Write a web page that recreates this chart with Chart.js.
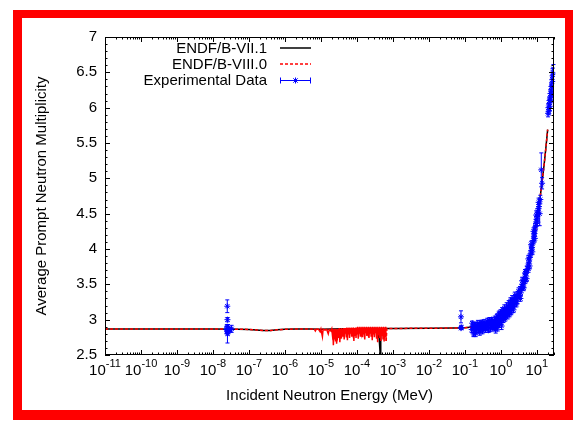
<!DOCTYPE html>
<html>
<head>
<meta charset="utf-8">
<title>Average Prompt Neutron Multiplicity</title>
<script src="https://cdn.jsdelivr.net/npm/chart.js@4.4.0/dist/chart.umd.min.js"></script>
<style>
  html, body { margin: 0; padding: 0; background: #ffffff; }
  #wrap { position: relative; width: 577px; height: 423px; }
</style>
</head>
<body>
<div id="wrap"><canvas id="nuChart" width="577" height="423"></canvas></div>
<script>
// ---- Data ----

// Smooth thermal / epithermal part shared by both evaluations (MeV, nu)
const thermalEnergy = [1e-11, 1e-9, 1e-8, 5e-8, 1e-7, 1.6e-7, 2.5e-7, 4e-7, 6e-7, 1e-6, 2e-6, 5e-6];
const thermalNu = [2.868, 2.868, 2.867, 2.866, 2.862, 2.855, 2.848, 2.848, 2.856, 2.864, 2.868, 2.868];

// Fast part shared by both evaluations
const fastEnergy = [6.8e-4, 1e-3, 1e-2, 0.05, 0.1, 0.3, 0.5, 1, 2, 3, 4, 5, 6, 7, 8, 9, 10, 12, 14, 16, 18, 20];
const fastNu = [2.875, 2.876, 2.878, 2.882, 2.885, 2.91, 2.94, 3.01, 3.15, 3.30, 3.45, 3.62, 3.79, 3.95, 4.10, 4.25, 4.40, 4.68, 4.95, 5.20, 5.45, 5.69];

// Resolved resonance region, ENDF/B-VII.1 (mostly hidden under VIII.0)
const res71Energy = [1e-5, 2e-5, 5e-5, 1e-4, 2e-4, 3.6e-4, 3.8e-4, 4.0e-4, 4.45e-4, 4.6e-4, 6e-4];
const res71Nu = [2.866, 2.868, 2.87, 2.872, 2.874, 2.875, 2.74, 2.875, 2.50, 2.875, 2.876];

// Resolved resonance region, ENDF/B-VIII.0
const res80Energy = [6.5e-6, 7e-6, 7.5e-6, 8.5e-6, 9.5e-6, 1.0e-5, 1.1e-5, 1.15e-5, 1.3e-5, 1.45e-5, 1.6e-5, 1.7e-5, 1.9e-5,
  2.00e-5, 2.07e-5, 2.14e-5, 2.22e-5, 2.30e-5, 2.38e-5, 2.46e-5, 2.55e-5, 2.64e-5, 2.73e-5,
  2.83e-5, 2.93e-5, 3.03e-5, 3.14e-5, 3.25e-5, 3.36e-5, 3.48e-5, 3.60e-5, 3.73e-5, 3.86e-5,
  4.00e-5, 4.14e-5, 4.28e-5, 4.43e-5, 4.59e-5, 4.75e-5, 4.92e-5, 5.09e-5, 5.27e-5, 5.45e-5,
  5.64e-5, 5.84e-5, 6.05e-5, 6.26e-5, 6.48e-5, 6.70e-5, 6.94e-5, 7.18e-5, 7.43e-5, 7.69e-5,
  7.96e-5, 8.24e-5, 8.53e-5, 8.83e-5, 9.14e-5, 9.46e-5, 9.79e-5,
  1.013e-4, 1.05e-4, 1.09e-4, 1.13e-4, 1.17e-4, 1.21e-4, 1.25e-4, 1.29e-4, 1.34e-4, 1.39e-4,
  1.44e-4, 1.49e-4, 1.54e-4, 1.59e-4, 1.65e-4, 1.71e-4, 1.77e-4, 1.83e-4, 1.89e-4, 1.96e-4,
  2.03e-4, 2.10e-4, 2.17e-4, 2.25e-4, 2.33e-4, 2.41e-4, 2.49e-4, 2.58e-4, 2.67e-4, 2.76e-4,
  2.86e-4, 2.96e-4, 3.06e-4, 3.17e-4, 3.28e-4, 3.40e-4, 3.52e-4, 3.64e-4, 3.77e-4, 3.90e-4,
  4.04e-4, 4.18e-4, 4.33e-4, 4.48e-4, 4.64e-4, 4.80e-4, 4.97e-4, 5.14e-4, 5.32e-4, 5.51e-4,
  5.70e-4, 5.90e-4, 6.11e-4, 6.32e-4, 6.50e-4];
const res80Nu = [2.868, 2.84, 2.868, 2.866, 2.83, 2.866, 2.76, 2.865, 2.85, 2.862, 2.80, 2.86, 2.84,
  2.87, 2.80, 2.87, 2.64, 2.86, 2.72, 2.87, 2.69, 2.87, 2.66,
  2.86, 2.79, 2.87, 2.74, 2.88, 2.68, 2.87, 2.73, 2.88, 2.81,
  2.87, 2.76, 2.88, 2.72, 2.88, 2.80, 2.88, 2.75, 2.89, 2.71,
  2.88, 2.79, 2.89, 2.74, 2.88, 2.80, 2.89, 2.76, 2.88, 2.82,
  2.89, 2.70, 2.88, 2.77, 2.89, 2.74, 2.89,
  2.79, 2.90, 2.73, 2.89, 2.80, 2.90, 2.76, 2.89, 2.82, 2.90,
  2.75, 2.89, 2.79, 2.90, 2.72, 2.89, 2.81, 2.90, 2.77, 2.89,
  2.83, 2.90, 2.74, 2.89, 2.80, 2.90, 2.76, 2.89, 2.71, 2.90,
  2.79, 2.89, 2.75, 2.90, 2.81, 2.89, 2.73, 2.90, 2.68, 2.89,
  2.78, 2.90, 2.74, 2.89, 2.70, 2.90, 2.77, 2.89, 2.72, 2.90,
  2.69, 2.89, 2.75, 2.90, 2.70];

// Experimental data (MeV, nu, +/- error)
const expEnergy = [
  2.4e-8, 2.5e-8, 2.5e-8, 2.5e-8, 2.53e-8, 2.53e-8, 2.53e-8, 2.55e-8, 2.6e-8, 2.6e-8, 3.0e-8, 3.3e-8,
  0.078, 0.078, 0.08,
  0.155, 0.17, 0.18, 0.19, 0.2, 0.21, 0.22, 0.24, 0.25, 0.27, 0.29, 0.3, 0.32, 0.35, 0.38, 0.4,
  0.43, 0.46, 0.5, 0.53, 0.57, 0.6, 0.65, 0.7, 0.72, 0.75, 0.8, 0.85, 0.9, 0.95, 1.0, 1.05,
  1.1, 1.15, 1.2, 1.3, 1.35, 1.4, 1.5, 1.6, 1.7, 1.8, 1.9, 2.0, 2.1, 2.2, 2.3, 2.4, 2.5, 2.6,
  2.8, 2.9, 3.0, 3.2, 3.4, 3.6, 3.8, 4.0, 4.2, 4.4, 4.6, 4.8, 5.0, 5.3, 5.6, 5.9, 6.1, 6.4,
  6.7, 7.0, 7.3, 7.6, 8.0, 8.3, 8.6, 8.9, 9.2, 9.5, 9.8, 10.2, 10.6, 11.0, 11.5, 12.0, 12.5,
  13.3, 14.0,
  0.16, 0.175, 0.185, 0.2, 0.23, 0.26, 0.28, 0.31, 0.34, 0.37, 0.42, 0.45, 0.48, 0.52, 0.55,
  0.62, 0.68, 0.74, 0.78, 0.82, 0.88, 0.92, 0.98, 1.02, 1.08, 1.18, 1.25, 1.32, 1.45, 1.55,
  1.65, 1.75, 1.85, 1.95, 2.05, 2.25, 2.45, 2.7, 3.1, 3.5, 3.9, 4.3, 4.7, 5.2, 5.8, 6.3,
  6.9, 7.5, 8.1, 8.8, 9.6, 10.4, 11.2,
  20.5, 21, 21.5, 22, 22.5, 23, 23.5, 24, 24.5, 25, 25.5, 26, 26.5, 27, 27.5, 28, 28.5, 29];
const expNu = [
  2.86, 3.19, 2.90, 2.84, 3.00, 2.88, 2.80, 2.85, 2.87, 2.83, 2.86, 2.87,
  3.04, 2.88, 2.89,
  2.86, 2.90, 2.82, 2.88, 2.93, 2.84, 2.89, 2.87, 2.92, 2.86, 2.90, 2.94, 2.88, 2.91, 2.93, 2.89,
  2.95, 2.92, 2.96, 2.90, 2.94, 2.97, 2.88, 2.95, 2.86, 2.99, 2.93, 3.02, 2.97, 3.05, 3.00, 2.91,
  3.07, 3.03, 3.10, 3.05, 3.13, 3.08, 3.14, 3.10, 3.18, 3.14, 3.21, 3.17, 3.24, 3.19, 3.27, 3.22, 3.30, 3.26,
  3.33, 3.28, 3.36, 3.33, 3.42, 3.38, 3.47, 3.50, 3.46, 3.56, 3.60, 3.55, 3.66, 3.70, 3.76, 3.72, 3.83, 3.88,
  3.93, 3.98, 4.02, 4.07, 4.12, 4.18, 4.22, 4.28, 4.32, 4.36, 4.42, 4.46, 4.52, 4.57, 4.60, 4.50, 4.70,
  5.12, 4.93,
  2.95, 2.80, 2.93, 2.81, 2.95, 2.82, 2.96, 2.84, 2.97, 2.86, 2.98, 2.85, 2.99, 2.87, 3.00,
  2.91, 3.01, 2.92, 3.05, 2.89, 3.08, 2.94, 3.10, 2.97, 3.12, 3.00, 3.16, 3.02, 3.19, 3.05,
  3.22, 3.08, 3.26, 3.11, 3.29, 3.14, 3.34, 3.22, 3.40, 3.30, 3.55, 3.45, 3.66, 3.58, 3.86, 3.76,
  4.06, 3.96, 4.25, 4.15, 4.48, 4.38, 4.66,
  5.92, 6.00, 5.95, 6.05, 6.10, 6.02, 6.15, 6.20, 6.12, 6.25, 6.30, 6.22, 6.35, 6.40, 6.45, 6.50, 6.42, 6.55];
const expErr = [
  0.05, 0.09, 0.03, 0.04, 0.03, 0.05, 0.13, 0.04, 0.06, 0.05, 0.03, 0.05,
  0.085, 0.02, 0.03,
  0.04, 0.03, 0.05, 0.04, 0.03, 0.04, 0.03, 0.05, 0.03, 0.03, 0.04, 0.03, 0.03, 0.04, 0.03, 0.04,
  0.03, 0.03, 0.04, 0.03, 0.05, 0.03, 0.04, 0.03, 0.05, 0.04, 0.03, 0.04, 0.05, 0.03, 0.04, 0.05,
  0.04, 0.03, 0.05, 0.04, 0.03, 0.05, 0.04, 0.03, 0.04, 0.05, 0.03, 0.04, 0.05, 0.03, 0.04, 0.03, 0.05, 0.04,
  0.03, 0.05, 0.04, 0.03, 0.05, 0.04, 0.03, 0.05, 0.04, 0.03, 0.05, 0.04, 0.03, 0.05, 0.04, 0.05, 0.03, 0.05,
  0.04, 0.05, 0.04, 0.05, 0.04, 0.05, 0.04, 0.05, 0.06, 0.05, 0.04, 0.06, 0.05, 0.06, 0.05, 0.17, 0.06,
  0.24, 0.08,
  0.03, 0.04, 0.03, 0.05, 0.04, 0.04, 0.03, 0.04, 0.03, 0.04, 0.04, 0.03, 0.04, 0.04, 0.03,
  0.05, 0.04, 0.04, 0.03, 0.05, 0.04, 0.05, 0.04, 0.04, 0.05, 0.04, 0.05, 0.04, 0.05, 0.04,
  0.05, 0.04, 0.05, 0.04, 0.05, 0.04, 0.05, 0.04, 0.05, 0.04, 0.05, 0.04, 0.05, 0.04, 0.05, 0.04,
  0.05, 0.04, 0.05, 0.05, 0.06, 0.05, 0.06,
  0.05, 0.06, 0.05, 0.06, 0.05, 0.06, 0.05, 0.06, 0.05, 0.06, 0.05, 0.06, 0.05, 0.06, 0.05, 0.06, 0.05, 0.06];

// Axis ticks
const xTickPowers = [-11, -10, -9, -8, -7, -6, -5, -4, -3, -2, -1, 0, 1];
const yTickValues = [2.5, 3, 3.5, 4, 4.5, 5, 5.5, 6, 6.5, 7];

const legendLabels = ["ENDF/B-VII.1", "ENDF/B-VIII.0", "Experimental Data"];

// ---- Styling ----
const FONT = '"Liberation Sans", Arial, Helvetica, sans-serif';
const BLUE = "rgb(0, 0, 255)";
const RED = "rgb(255, 0, 0)";
const DASH = [3, 2];

const toPoints = (xs, ys) => xs.map((x, i) => ({ x, y: ys[i] }));

const endf71 = toPoints(
  thermalEnergy.concat(res71Energy, fastEnergy),
  thermalNu.concat(res71Nu, fastNu),
);
const endf80 = toPoints(
  thermalEnergy.concat(res80Energy, fastEnergy),
  thermalNu.concat(res80Nu, fastNu),
);
const experiment = toPoints(expEnergy, expNu);

// resonance segments are so dense that the dashes merge into solid red
const resLow = res80Energy[0];
const resHigh = res80Energy[res80Energy.length - 1];
const segmentDash = (c) =>
  c.p0.parsed.x >= resLow && c.p1.parsed.x <= resHigh ? [] : DASH;

/**
 * Error bars for the experimental dataset (dataset 0)
 */
const errorBars = {
  id: "errorBars",
  afterDatasetDraw(chart, args) {
    if (args.index !== 0) return;
    const { ctx, chartArea } = chart;
    const yScale = chart.scales.y;
    ctx.save();
    ctx.beginPath();
    ctx.rect(chartArea.left - 3, chartArea.top, chartArea.right - chartArea.left + 6, chartArea.bottom - chartArea.top);
    ctx.clip();
    ctx.strokeStyle = BLUE;
    ctx.lineWidth = 1;
    args.meta.data.forEach((pt, i) => {
      const top = yScale.getPixelForValue(expNu[i] + expErr[i]);
      const bot = yScale.getPixelForValue(expNu[i] - expErr[i]);
      ctx.beginPath();
      ctx.moveTo(pt.x, top);
      ctx.lineTo(pt.x, bot);
      ctx.moveTo(pt.x - 2, top);
      ctx.lineTo(pt.x + 2, top);
      ctx.moveTo(pt.x - 2, bot);
      ctx.lineTo(pt.x + 2, bot);
      ctx.stroke();
    });
    ctx.restore();
  },
};

/**
 * Red frame, plot border with inward ticks, x tick labels and legend
 */
const gnuplotFrame = {
  id: "gnuplotFrame",
  beforeDraw(chart) {
    const { ctx, width, height } = chart;
    ctx.save();
    ctx.fillStyle = "#ffffff";
    ctx.fillRect(0, 0, width, height);
    ctx.restore();
  },
  afterDraw(chart) {
    const { ctx, chartArea } = chart;
    const { left, right, top, bottom } = chartArea;
    const xScale = chart.scales.x;
    const yScale = chart.scales.y;

    ctx.save();

    // red outer frame
    ctx.fillStyle = RED;
    ctx.fillRect(13, 10, 560, 8);
    ctx.fillRect(13, 410, 560, 10);
    ctx.fillRect(13, 10, 9, 410);
    ctx.fillRect(565, 10, 8, 410);

    // plot border
    ctx.strokeStyle = "#000";
    ctx.lineWidth = 1;
    ctx.strokeRect(left + 0.5, top + 0.5, right - left - 1, bottom - top - 1);

    // x ticks (major decades, minor 2..9), mirrored on top
    ctx.beginPath();
    xTickPowers.forEach((p) => {
      const base = Math.pow(10, p);
      for (let m = 1; m <= 9; m++) {
        const v = base * m;
        if (v > xScale.max) break;
        const x = Math.round(xScale.getPixelForValue(v)) + 0.5;
        const len = m === 1 ? 5 : 2.5;
        ctx.moveTo(x, bottom);
        ctx.lineTo(x, bottom - len);
        ctx.moveTo(x, top);
        ctx.lineTo(x, top + len);
      }
    });

    // y ticks (major 0.5, minor 0.1), mirrored on right
    for (let k = 0; k <= 45; k++) {
      const v = 2.5 + k * 0.1;
      const y = Math.round(yScale.getPixelForValue(v)) + 0.5;
      const len = k % 5 === 0 ? 5 : 2.5;
      ctx.moveTo(left, y);
      ctx.lineTo(left + len, y);
      ctx.moveTo(right, y);
      ctx.lineTo(right - len, y);
    }
    ctx.stroke();

    // x tick labels: 10 with superscript exponent
    ctx.fillStyle = "#000";
    ctx.textBaseline = "alphabetic";
    ctx.textAlign = "left";
    xTickPowers.forEach((p) => {
      const x = xScale.getPixelForValue(Math.pow(10, p));
      const exp = String(p);
      ctx.font = `15px ${FONT}`;
      const wBase = ctx.measureText("10").width;
      ctx.font = `11px ${FONT}`;
      const wExp = ctx.measureText(exp).width;
      const x0 = x - (wBase + wExp) / 2;
      ctx.font = `15px ${FONT}`;
      ctx.fillText("10", x0, 375);
      ctx.font = `11px ${FONT}`;
      ctx.fillText(exp, x0 + wBase, 367);
    });

    // legend
    const rows = [48, 64, 80];
    const textRight = 267;
    const x1 = 280;
    const x2 = 311;
    ctx.font = `15px ${FONT}`;
    ctx.textAlign = "right";
    ctx.textBaseline = "middle";
    legendLabels.forEach((label, i) => {
      ctx.fillStyle = "#000";
      ctx.fillText(label, textRight, rows[i] + 1);
    });

    ctx.lineWidth = 1.5;
    ctx.strokeStyle = "#000";
    ctx.beginPath();
    ctx.moveTo(x1, rows[0]);
    ctx.lineTo(x2, rows[0]);
    ctx.stroke();

    ctx.strokeStyle = RED;
    ctx.setLineDash(DASH);
    ctx.beginPath();
    ctx.moveTo(x1, rows[1]);
    ctx.lineTo(x2, rows[1]);
    ctx.stroke();
    ctx.setLineDash([]);

    const ym = rows[2] + 0.5;
    const xm = (x1 + x2) / 2;
    ctx.strokeStyle = BLUE;
    ctx.lineWidth = 1;
    ctx.beginPath();
    ctx.moveTo(x1, ym);
    ctx.lineTo(x2, ym);
    ctx.moveTo(x1 + 0.5, ym - 3);
    ctx.lineTo(x1 + 0.5, ym + 3);
    ctx.moveTo(x2 - 0.5, ym - 3);
    ctx.lineTo(x2 - 0.5, ym + 3);
    // star marker
    ctx.moveTo(xm - 3, ym);
    ctx.lineTo(xm + 3, ym);
    ctx.moveTo(xm, ym - 3);
    ctx.lineTo(xm, ym + 3);
    ctx.moveTo(xm - 2.2, ym - 2.2);
    ctx.lineTo(xm + 2.2, ym + 2.2);
    ctx.moveTo(xm - 2.2, ym + 2.2);
    ctx.lineTo(xm + 2.2, ym - 2.2);
    ctx.stroke();

    ctx.restore();
  },
};

const ctx = document.getElementById("nuChart").getContext("2d");

new Chart(ctx, {
  type: "scatter",
  data: {
    datasets: [
      {
        label: legendLabels[2],
        data: experiment,
        showLine: false,
        pointStyle: "star",
        pointRadius: 3,
        pointBorderWidth: 1,
        borderColor: BLUE,
        backgroundColor: BLUE,
      },
      {
        label: legendLabels[1],
        data: endf80,
        showLine: true,
        pointRadius: 0,
        borderColor: RED,
        borderWidth: 1.5,
        borderDash: DASH,
        segment: { borderDash: segmentDash },
        tension: 0,
      },
      {
        label: legendLabels[0],
        data: endf71,
        showLine: true,
        pointRadius: 0,
        borderColor: "#000",
        borderWidth: 1.5,
        tension: 0,
      },
    ],
  },
  options: {
    responsive: false,
    animation: false,
    devicePixelRatio: 1,
    layout: {
      padding: { left: 22, right: 23, top: 37, bottom: 9 },
    },
    plugins: {
      legend: { display: false },
      tooltip: { enabled: false },
    },
    scales: {
      x: {
        type: "logarithmic",
        min: 1e-11,
        max: 30,
        grid: { display: false },
        border: { display: false },
        ticks: { display: false },
        title: {
          display: true,
          text: "Incident Neutron Energy (MeV)",
          color: "#000",
          font: { family: FONT, size: 15 },
          padding: { top: 0, bottom: 9 },
        },
        afterFit: (scale) => {
          scale.height = 59;
        },
      },
      y: {
        type: "linear",
        min: 2.5,
        max: 7,
        grid: { display: false, drawTicks: false },
        border: { display: false },
        afterBuildTicks: (scale) => {
          scale.ticks = yTickValues.map((v) => ({ value: v }));
        },
        ticks: {
          color: "#000",
          padding: 8,
          font: { family: FONT, size: 15 },
          callback: (v) => String(v),
        },
        title: {
          display: true,
          text: "Average Prompt Neutron Multiplicity",
          color: "#000",
          font: { family: FONT, size: 15 },
          padding: { top: 11, bottom: 0 },
        },
        afterFit: (scale) => {
          scale.width = 83;
        },
      },
    },
  },
  plugins: [errorBars, gnuplotFrame],
});
</script>
</body>
</html>
